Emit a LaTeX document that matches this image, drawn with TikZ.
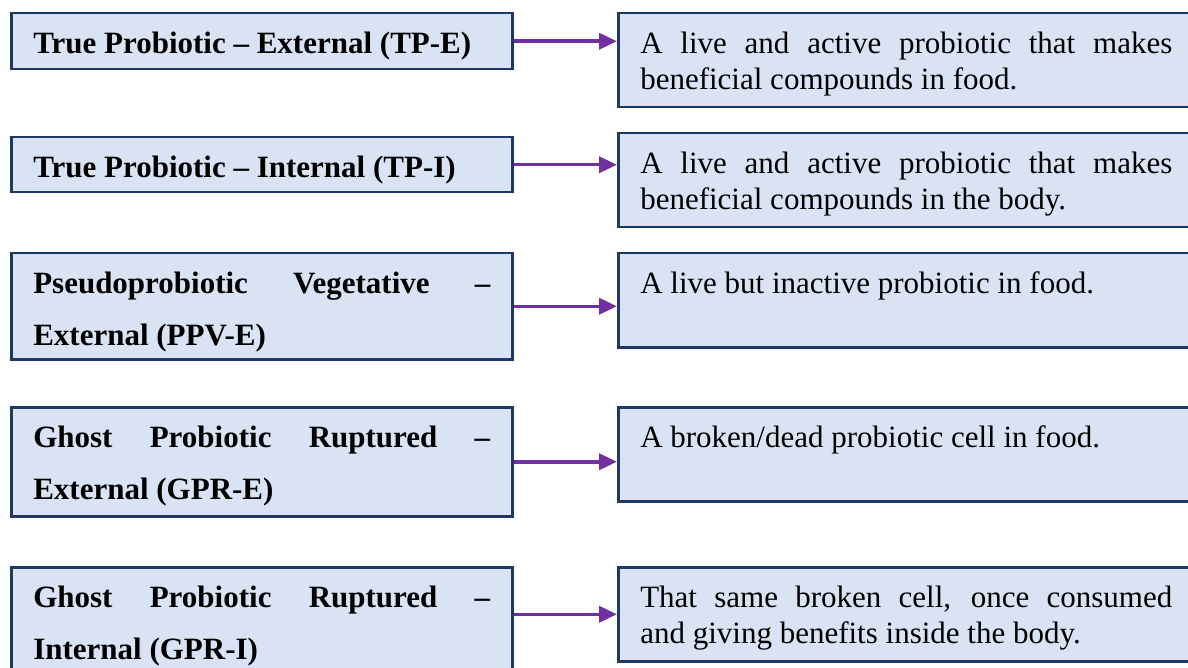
\documentclass[tikz,border=0pt]{standalone}
\usepackage{fontspec}
\setmainfont{Liberation Serif}
\usetikzlibrary{arrows.meta}
\definecolor{boxfill}{HTML}{DAE3F3}
\definecolor{boxline}{HTML}{203864}
\definecolor{linkpurple}{HTML}{7030A0}
\hyphenpenalty=10000
\exhyphenpenalty=10000
\tolerance=10000

\begin{document}
\begin{tikzpicture}[x=1pt,y=-1pt,
  kindbox/.style={draw=boxline, line width=2.5pt, fill=boxfill, anchor=north west,
    text width=457pt, inner xsep=22pt, inner ysep=10pt, text height=30pt,
    align=justify, font=\fontsize{31}{52}\selectfont\bfseries},
  meanbox/.style={draw=boxline, line width=2.5pt, fill=boxfill, anchor=north west,
    text width=532pt, inner xsep=22pt, inner ysep=10pt, text height=30pt, text depth=44pt,
    align=justify, font=\fontsize{31}{36}\selectfont},
  link/.style={draw=linkpurple, line width=3.5pt, -{Triangle[length=18pt,width=16pt]}}]
\useasboundingbox (0,0) rectangle (1188,668);
\clip (0,0) rectangle (1188,668);
% kinds of probiotic
\node[kindbox, text depth=6pt]  (tpe)  at (10,12)  {True Probiotic -- External (TP-E)};
\node[kindbox, text depth=5pt]  (tpi)  at (10,136) {True Probiotic -- Internal (TP-I)};
\node[kindbox, text depth=56pt] (ppve) at (10,252) {Pseudoprobiotic Vegetative -- External (PPV-E)};
\node[kindbox, text depth=59pt] (gpre) at (10,406) {Ghost Probiotic Ruptured -- External (GPR-E)};
\node[kindbox, text depth=68pt] (gpri) at (10,566) {Ghost Probiotic Ruptured -- Internal (GPR-I)};
% what they mean
\node[meanbox] (tpe-d)  at (617,12)  {A live and active probiotic that makes beneficial compounds in food.};
\node[meanbox] (tpi-d)  at (617,132) {A live and active probiotic that makes beneficial compounds in the body.};
\node[meanbox] (ppve-d) at (617,252) {A live but inactive probiotic in food.};
\node[meanbox] (gpre-d) at (617,406) {A broken/dead probiotic cell in food.};
\node[meanbox] (gpri-d) at (617,566) {That same broken cell, once consumed\linebreak and giving benefits inside the body.};
% arrows
\draw[link] (tpe.east) -- (tpe.east -| tpe-d.west);
\draw[link] (tpi.east) -- (tpi.east -| tpi-d.west);
\draw[link] (ppve.east) -- (ppve.east -| ppve-d.west);
\draw[link] (gpre.east) -- (gpre.east -| gpre-d.west);
\draw[link] (gpri.east |- gpri-d.west) -- (gpri-d.west);
\end{tikzpicture}
\end{document}
